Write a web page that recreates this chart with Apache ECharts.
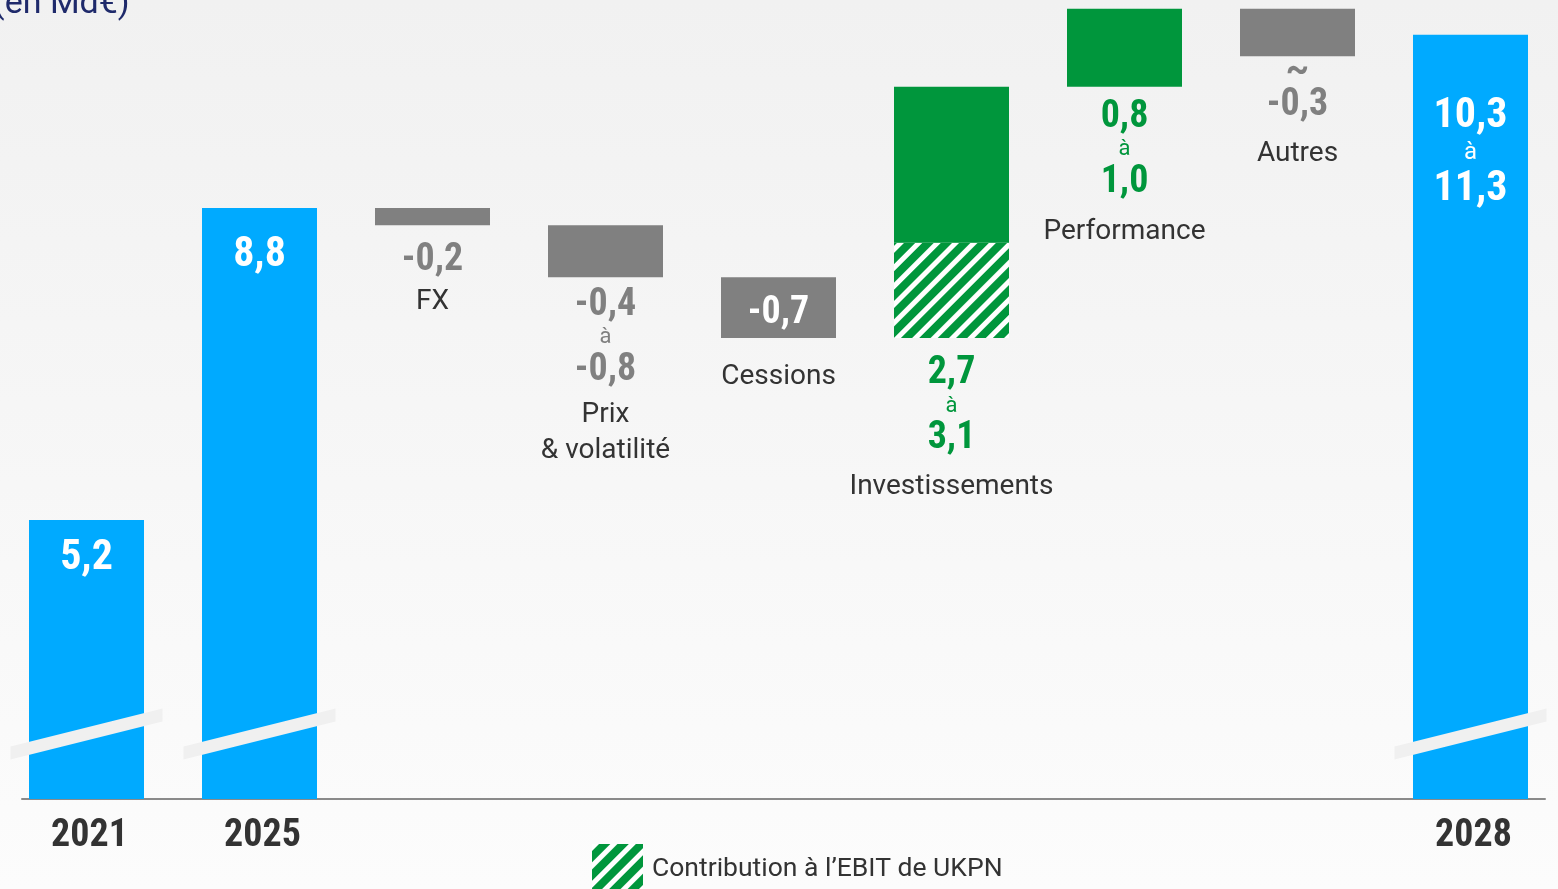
<!DOCTYPE html>
<html><head><meta charset="utf-8">
<script src="https://cdn.jsdelivr.net/npm/echarts@6/dist/echarts.min.js"></script>
<style>html,body{margin:0;padding:0;overflow:hidden;}#c{width:1558px;height:889px;}</style>
</head><body><div id="c"></div>
<script>
// ---- data ----
const categories = ['2021','2025','FX','Prix & volatilité','Cessions','Investissements','Performance','Autres','2028'];
const nameLabels = ['', '', 'FX', 'Prix\n& volatilité', 'Cessions', 'Investissements', 'Performance', 'Autres', ''];
const kinds = ['total','total','delta','delta','delta','delta','delta','delta','total'];
const totalValues = [5.2, 8.8, null, null, null, null, null, null, 10.8];
const deltaValues = [null, null, -0.2, -0.6, -0.7, 2.9, 0.9, -0.55, null];
const ukpnValues = [0, 0, 0, 0, 0, 1.1, 0, 0, 0];
const valueLabels = ['5,2','8,8','-0,2','-0,4 à -0,8','-0,7','2,7 à 3,1','0,8 à 1,0','~ -0,3','10,3 à 11,3'];
const legendName = 'Contribution à l’EBIT de UKPN';
const unitTitle = '(en Md€)';
const axisBreakValue = 2.73;

// ---- layout / style config ----
const labelDistance = [18, 26.5, 18.5, 11.5, 21, 19.5, 14, -0.5, 60.5];
const nameGap = [0, 0, 7.5, 10.5, 0, 13.5, 15.5, 14.5, 0];
const valueInsideBar = ['Cessions'];
const BLUE = '#00aaff', GREY = '#808080', GREEN = '#00963c', DARK = '#333333';
const numFont = "'Liberation Sans Narrow', 'Roboto Condensed', 'Arial Narrow', Roboto, sans-serif";
const nameFont = "Roboto, sans-serif";

// ---- waterfall build ----
const baseData = [], hatchData = [], mainData = [];
let running = 0;
categories.forEach((c, i) => {
  if (kinds[i] === 'total') {
    running = totalValues[i];
    baseData.push(0); hatchData.push(0); mainData.push(totalValues[i]);
  } else {
    const d = deltaValues[i];
    const low = d < 0 ? running + d : running;
    const high = d < 0 ? running : running + d;
    running = d < 0 ? low : high;
    baseData.push(low); hatchData.push(ukpnValues[i]); mainData.push(+(high - low - ukpnValues[i]).toFixed(4));
  }
});
const colorOf = i => kinds[i] === 'total' ? BLUE : (deltaValues[i] < 0 ? GREY : GREEN);
const toneOf = i => kinds[i] === 'total' ? 'w' : (deltaValues[i] < 0 ? 'g' : 'e');

function valueBlock(i) {
  const t = toneOf(i);
  let s = valueLabels[i], pre = '';
  if (s.startsWith('~ ')) { pre = '{t' + t + '|~}\n'; s = s.slice(2); }
  return pre + s.split(' à ').map(p => '{v' + t + '|' + p + '}').join('\n{a' + t + '|à}\n');
}
function nameBlock(i) {
  return nameLabels[i].split('\n').map(p => '{n|' + p + '}').join('\n');
}
const baseRich = {
  vw: {color:'#fff', fontSize:42, fontWeight:'bold', fontFamily:numFont, lineHeight:42},
  aw: {color:'#fff', fontSize:24, fontFamily:nameFont, lineHeight:31},
  vg: {color:GREY, fontSize:38, fontWeight:'bold', fontFamily:numFont, lineHeight:33},
  ag: {color:GREY, fontSize:22, fontFamily:nameFont, lineHeight:32},
  tg: {color:GREY, fontSize:36, fontWeight:'bold', fontFamily:nameFont, lineHeight:33},
  ve: {color:GREEN, fontSize:38, fontWeight:'bold', fontFamily:numFont, lineHeight:33},
  ae: {color:GREEN, fontSize:22, fontFamily:nameFont, lineHeight:32},
  cw: {color:'#fff', fontSize:38, fontWeight:'bold', fontFamily:numFont, lineHeight:38},
  n: {color:DARK, fontSize:28, fontFamily:nameFont, lineHeight:36}
};
const richFor = i => Object.assign({}, baseRich, {gap: {fontSize:1, lineHeight: nameGap[i] || 1}});

const chart = echarts.init(document.getElementById('c'), null, {renderer:'canvas'});
chart.setOption({
  animation: false,
  backgroundColor: {type:'linear', x:0, y:0, x2:0, y2:1,
    colorStops:[{offset:0, color:'#f1f1f1'}, {offset:1, color:'#fcfcfc'}]},
  title: {text: unitTitle, left: -7, top: -13, padding: 0,
    textStyle: {color:'#1f2a6b', fontSize:34, fontWeight:'normal', fontFamily:nameFont, lineHeight:34}},
  legend: {data:[legendName], left:592, top:844, padding:0, itemWidth:51, itemHeight:51,
    icon:'rect', textStyle:{fontSize:26.5, color:DARK, fontFamily:nameFont, padding:[7,0,0,4]}},
  grid: [
    {left:0, right:1, top:0, bottom:90},
    {left:22, right:13, top:0, bottom:90}
  ],
  xAxis: [
    {type:'category', data:categories, gridIndex:0,
      axisLine:{show:false}, axisTick:{show:false},
      axisLabel:{interval:0, margin:17, color:DARK, fontSize:38, fontWeight:'bold', fontFamily:numFont, lineHeight:40,
        padding:[0,0,0,6],
        formatter: v => /^\d{4}$/.test(v) ? v : ''}},
    {type:'value', gridIndex:1, min:0, max:1, axisLine:{show:true, lineStyle:{color:'#8a8a8a', width:2}},
      axisTick:{show:false}, axisLabel:{show:false}, splitLine:{show:false}}
  ],
  yAxis: [
    {type:'value', gridIndex:0, min:1.98, max:11.2, show:false, splitLine:{show:false}},
    {type:'value', gridIndex:1, min:0, max:1, show:false}
  ],
  series: [
    {name:'base', type:'bar', stack:'w', barWidth:115, itemStyle:{color:'transparent'},
      data: baseData.map((v, i) => ({value:v, label:{
        show: kinds[i] !== 'total', position:'insideTop', distance: labelDistance[i],
        formatter: () => (valueInsideBar.includes(categories[i]) ? '' : valueBlock(i) + '\n{gap| }\n') + nameBlock(i),
        rich: richFor(i)}})),
      silent:true},
    {name:legendName, type:'bar', stack:'w', barWidth:115,
      itemStyle:{color:GREEN, decal:{symbol:'rect', symbolSize:1, color:'#ffffff',
        dashArrayX:[1,0], dashArrayY:[4.5,7.2], rotation:-Math.PI/4}},
      data: hatchData},
    {name:'main', type:'bar', stack:'w', barWidth:115,
      data: mainData.map((v, i) => ({value:v, itemStyle:{color:colorOf(i)}, label:{
        show: kinds[i] === 'total' || valueInsideBar.includes(categories[i]),
        position: kinds[i] === 'total' ? 'insideTop' : 'inside',
        distance: labelDistance[i],
        offset: kinds[i] === 'total' ? [0, 0] : [0, 6],
        formatter: () => kinds[i] === 'total' ? valueBlock(i) : '{cw|' + valueLabels[i] + '}',
        rich: richFor(i)}}))},
    {name:'break', type:'custom', z:10, silent:true,
      data: categories.map((c, i) => kinds[i] === 'total' ? [i, axisBreakValue] : null).filter(Boolean),
      renderItem: (params, api) => {
        const p = api.coord([api.value(0), api.value(1)]);
        const x0 = p[0] - 76, x1 = p[0] + 76, d = 19, h = 6.5;
        return {type:'polygon', shape:{points:[[x0, p[1]+d-h],[x1, p[1]-d-h],[x1, p[1]-d+h],[x0, p[1]+d+h]]},
          style:{fill:'#f0f0f0'}};
      }}
  ]
});
</script></body></html>
